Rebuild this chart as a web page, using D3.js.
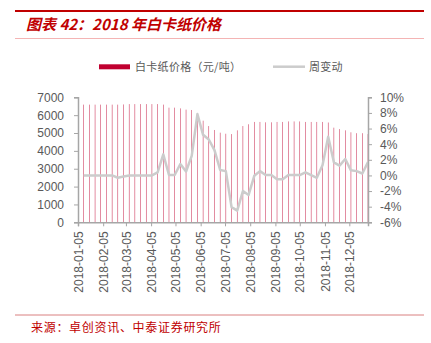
<!DOCTYPE html>
<html>
<head>
<meta charset="utf-8">
<script src="https://cdn.jsdelivr.net/npm/d3@7"></script>
<style>
  html, body { margin: 0; padding: 0; background: #fff; }
  svg { display: block; }
</style>
</head>
<body>
<svg id="chart" width="431" height="343"></svg>
<script>
// Weekly white cardboard price (yuan/ton) and week-on-week change (%), 2018
const weeks = [
  "2018-01-12","2018-01-19","2018-01-26","2018-02-02","2018-02-09","2018-02-16","2018-02-23",
  "2018-03-02","2018-03-09","2018-03-16","2018-03-23","2018-03-30","2018-04-06","2018-04-13",
  "2018-04-20","2018-04-27","2018-05-04","2018-05-11","2018-05-18","2018-05-25","2018-06-01",
  "2018-06-08","2018-06-15","2018-06-22","2018-06-29","2018-07-06","2018-07-13","2018-07-20",
  "2018-07-27","2018-08-03","2018-08-10","2018-08-17","2018-08-24","2018-08-31","2018-09-07",
  "2018-09-14","2018-09-21","2018-09-28","2018-10-05","2018-10-12","2018-10-19","2018-10-26",
  "2018-11-02","2018-11-09","2018-11-16","2018-11-23","2018-11-30","2018-12-07","2018-12-14",
  "2018-12-21","2018-12-28"
];
const price = [
  6590, 6590, 6590, 6590, 6590, 6590, 6590, 6600, 6620, 6620, 6620, 6620, 6620, 6620,
  6590, 6420, 6420, 6380, 6310, 6290, 6000, 5690, 5390, 5170, 5020, 4960, 4940, 5150,
  5390, 5490, 5620, 5620, 5600, 5600, 5620, 5620, 5650, 5650, 5650, 5620, 5620, 5620,
  5620, 5590, 5300, 5220, 5150, 5040, 4990, 4990, 4940
];
const weeklyChange = [
  0, 0, 0, 0, 0, 0, -0.3, -0.15, 0, 0, 0, 0, 0, 0.4,
  2.7, 0.05, 0.05, 1.46, 0.5, 2.5, 7.85, 5.2, 4.6, 3.25, 0.7, 0.55, -4.05, -4.5,
  -2.0, -2.5, -0.05, 0.55, 0.05, 0.05, -0.5, -0.5, 0.05, 0.05, 0.05, 0.4, 0.05, -0.3,
  1.3, 4.95, 1.68, 1.25, 2.1, 0.65, 0.55, 0.25, 1.7
];
const xTickLabels = [
  "2018-01-05","2018-02-05","2018-03-05","2018-04-05","2018-05-05","2018-06-05",
  "2018-07-05","2018-08-05","2018-09-05","2018-10-05","2018-11-05","2018-12-05"
];
const leftTicks = [0, 1000, 2000, 3000, 4000, 5000, 6000, 7000];
const rightTicks = [-6, -4, -2, 0, 2, 4, 6, 8, 10];

const parse = d3.utcParse("%Y-%m-%d");
const dates = weeks.map(parse);
const axisStart = parse("2018-01-05");

const svg = d3.select("#chart");
const plot = { left: 78, right: 368, top: 97.3, bottom: 222.3 };
const axisGray = "#A6A6A6";
const textGray = "#595959";
const barRed = "#C00030";
const lineGray = "#CCCCCC";

const x = d3.scaleUtc().domain([axisStart, dates[dates.length - 1]]).range([plot.left, plot.right]);
const yL = d3.scaleLinear().domain([0, 7000]).range([plot.bottom, plot.top]);
const yR = d3.scaleLinear().domain([-6, 10]).range([plot.bottom, plot.top]);

// Header rules and title
svg.append("line").attr("x1", 15).attr("x2", 424).attr("y1", 11).attr("y2", 11)
  .attr("stroke", "#C00000").attr("stroke-width", 2);
svg.append("line").attr("x1", 15).attr("x2", 424).attr("y1", 38.5).attr("y2", 38.5)
  .attr("stroke", "#F4B4B4").attr("stroke-width", 1);
svg.append("text").attr("x", 26).attr("y", 30)
  .attr("fill", "#C00000")
  .attr("font-family", "'Noto Sans CJK SC', sans-serif")
  .attr("font-size", 15).attr("font-weight", "bold").attr("font-style", "italic")
  .text("图表 42：2018 年白卡纸价格");

// Legend
const legendFont = "'Noto Sans CJK SC', sans-serif";
svg.append("rect").attr("x", 99).attr("y", 64.3).attr("width", 31).attr("height", 5).attr("fill", barRed);
svg.append("text").attr("x", 135).attr("y", 67).attr("dy", "0.35em")
  .attr("fill", textGray).attr("font-family", legendFont).attr("font-size", 11)
  .attr("letter-spacing", 0.3)
  .text("白卡纸价格（元/吨）");
svg.append("line").attr("x1", 273).attr("x2", 305).attr("y1", 66.7).attr("y2", 66.7)
  .attr("stroke", lineGray).attr("stroke-width", 2.5);
svg.append("text").attr("x", 309).attr("y", 67).attr("dy", "0.35em")
  .attr("fill", textGray).attr("font-family", legendFont).attr("font-size", 11)
  .attr("letter-spacing", 0.3)
  .text("周变动");

// Price bars (very thin weekly columns)
const barW = 0.5;
svg.append("g").selectAll("rect").data(price).join("rect")
  .attr("x", (d, i) => x(dates[i]) - barW / 2)
  .attr("y", d => yL(d))
  .attr("width", barW)
  .attr("height", d => yL(0) - yL(d))
  .attr("fill", barRed)
  .attr("fill-opacity", 0.9);

// Weekly change line
const line = d3.line()
  .x((d, i) => x(dates[i]))
  .y(d => yR(d));
svg.append("path").datum(weeklyChange)
  .attr("d", line)
  .attr("fill", "none")
  .attr("stroke", lineGray)
  .attr("stroke-width", 2.5)
  .attr("stroke-linejoin", "round");

// Axes
const tickFont = "'Liberation Sans', Arial, sans-serif";
const leftAxis = d3.axisLeft(yL).tickValues(leftTicks).tickSize(4).tickPadding(10).tickFormat(d3.format("d"));
const gL = svg.append("g").attr("transform", `translate(${plot.left},0)`).call(leftAxis);

const rightAxis = d3.axisRight(yR).tickValues(rightTicks).tickSize(4).tickPadding(8).tickFormat(d => d + "%");
const gR = svg.append("g").attr("transform", `translate(${plot.right},0)`).call(rightAxis);

const xTicks = xTickLabels.map(parse);
const bottomAxis = d3.axisBottom(x).tickValues(xTicks).tickSize(4).tickPadding(4)
  .tickFormat(d3.utcFormat("%Y-%m-%d"));
const gB = svg.append("g").attr("transform", `translate(0,${plot.bottom})`).call(bottomAxis);
gB.selectAll("text")
  .attr("transform", "rotate(-90)")
  .attr("text-anchor", "end")
  .attr("x", -9)
  .attr("y", 0)
  .attr("dy", "0.35em");

[gL, gR, gB].forEach(g => {
  g.select(".domain").attr("stroke", axisGray).attr("stroke-width", 1.5);
  g.selectAll(".tick line").attr("stroke", axisGray).attr("stroke-width", 1);
  g.selectAll(".tick text").attr("fill", textGray).attr("font-family", tickFont).attr("font-size", 12);
});

// Footer
svg.append("line").attr("x1", 15).attr("x2", 424).attr("y1", 315).attr("y2", 315)
  .attr("stroke", "#D98080").attr("stroke-width", 1);
svg.append("text").attr("x", 31).attr("y", 328).attr("dy", "0.35em")
  .attr("fill", "#C00000").attr("font-family", "'Noto Sans CJK SC', sans-serif")
  .attr("font-size", 12).attr("letter-spacing", 0.7)
  .text("来源：卓创资讯、中泰证券研究所");
</script>
</body>
</html>
